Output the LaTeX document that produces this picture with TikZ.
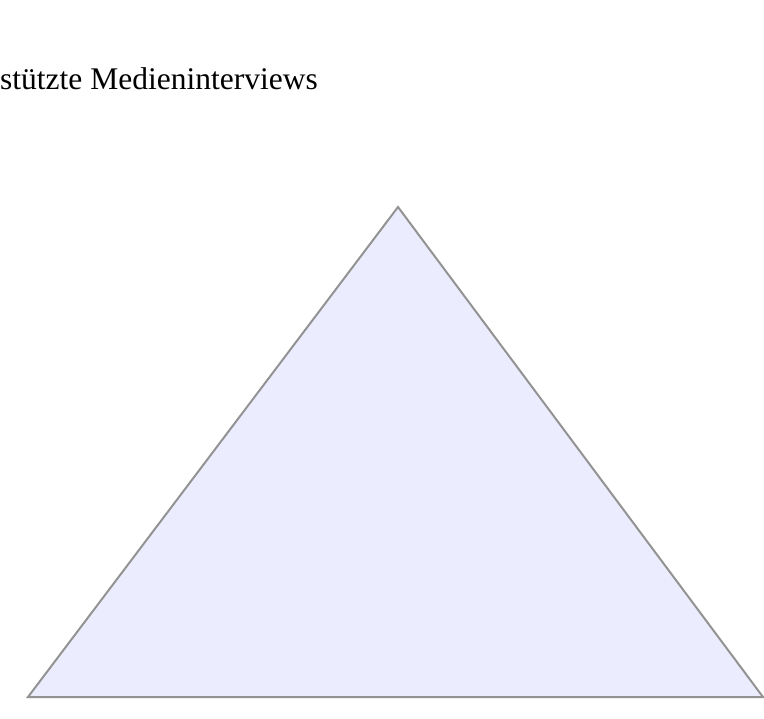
\documentclass[tikz,border=0pt]{standalone}
\usepackage{fontspec}
\setmainfont{Liberation Serif}
\usetikzlibrary{calc}
\definecolor{FillClr}{RGB}{236,236,255}
\definecolor{EdgeClr}{RGB}{147,147,147}

\begin{document}
\begin{tikzpicture}[x=1pt,y=-1pt]
\useasboundingbox (0,0) rectangle (764,719);

\coordinate (Top) at (398,207);
\coordinate (BotL) at (28,697);
\coordinate (BotR) at (763,697);

\node[anchor=base west,inner sep=0pt,font=\fontsize{31.5}{36}\selectfont] (title) at (0,90) {stützte Medieninterviews};

\filldraw[fill=FillClr,draw=EdgeClr,line width=2pt,line join=miter] (Top) -- (BotR) -- (BotL) -- cycle;

\end{tikzpicture}
\end{document}
